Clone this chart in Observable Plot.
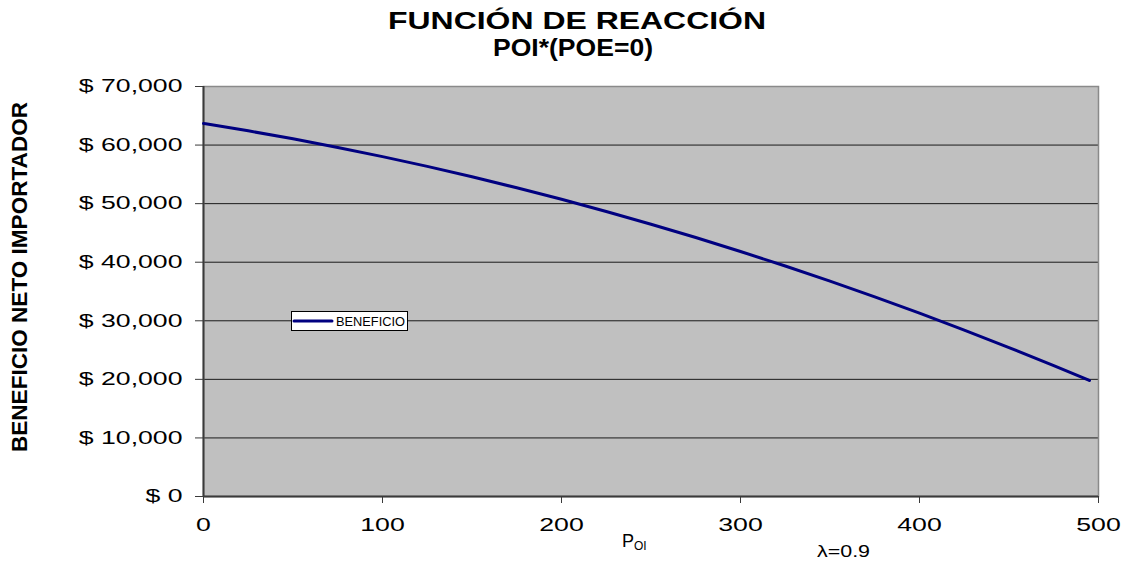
<!DOCTYPE html>
<html>
<head>
<meta charset="utf-8">
<script src="https://cdn.jsdelivr.net/npm/d3@7"></script>
<script src="https://cdn.jsdelivr.net/npm/@observablehq/plot@0.6"></script>
<style>
  html, body { margin: 0; padding: 0; background: #fff; }
  #chart { width: 1125px; height: 561px; }
</style>
</head>
<body>
<div id="chart"></div>
<script>
// ---- data ----
const titleLines = ["FUNCIÓN DE REACCIÓN", "POI*(POE=0)"];
const yLabel = "BENEFICIO NETO IMPORTADOR";
const seriesName = "BENEFICIO";
const lambdaNote = "λ=0.9";
const pOI = [0, 25, 50, 75, 100, 125, 150, 175, 200, 225, 250, 275, 300, 325, 350, 375, 400, 425, 450, 475, 495];
const beneficio = [63700, 62430, 61070, 59600, 58030, 56360, 54580, 52710, 50740, 48660, 46480, 44210, 41830, 39350, 36770, 34080, 31300, 28420, 25430, 22340, 19800];
const xTicks = [0, 100, 200, 300, 400, 500];
const yTicks = [0, 10000, 20000, 30000, 40000, 50000, 60000, 70000];

const data = pOI.map((x, i) => ({x, y: beneficio[i]}));
const fmtY = d => "$ " + d3.format(",")(d);

const W = 1125, H = 561;
const mL = 203, mR = 27, mT = 86, mB = 65;

const chart = Plot.plot({
  width: W,
  height: H,
  marginLeft: mL,
  marginRight: mR,
  marginTop: mT,
  marginBottom: mB,
  style: {fontFamily: "'Liberation Sans', Arial, sans-serif", fontSize: "18px", color: "#000", background: "#fff"},
  x: {domain: [0, 500]},
  y: {domain: [0, 70000]},
  marks: [
    Plot.frame({fill: "#c0c0c0", stroke: "none"}),
    Plot.ruleY(yTicks.slice(1), {stroke: "#1a1a1a", strokeWidth: 1}),
    Plot.frame({stroke: "#8a8a8a", strokeWidth: 1.5}),
    Plot.ruleY([0], {stroke: "#3a3a3a", strokeWidth: 2}),
    Plot.ruleX([0], {stroke: "#3a3a3a", strokeWidth: 2}),
    Plot.axisY({ticks: yTicks, tickFormat: fmtY, tickSize: 8, tickPadding: 13, label: null, stroke: "#3a3a3a"}),
    Plot.axisX({ticks: xTicks, tickFormat: d => String(d), tickSize: 7, tickPadding: 15, label: null, stroke: "#3a3a3a"}),
    Plot.line(data, {x: "x", y: "y", stroke: "#000080", strokeWidth: 3, curve: "monotone-x"})
  ]
});
document.getElementById("chart").appendChild(chart);

// Stretch tick labels horizontally like the reference
const svg = d3.select(chart);
svg.selectAll('[aria-label="y-axis tick label"] text, [aria-label="x-axis tick label"] text').each(function() {
  const w = this.getComputedTextLength();
  this.setAttribute("textLength", (w * 1.48).toFixed(1));
  this.setAttribute("lengthAdjust", "spacingAndGlyphs");
});

// Title
const title = svg.append("g").attr("font-weight", "bold").attr("font-size", 23).attr("text-anchor", "middle");
title.append("text").attr("x", 577).attr("y", 29).attr("textLength", 378).attr("lengthAdjust", "spacingAndGlyphs").text(titleLines[0]);
title.append("text").attr("x", 573).attr("y", 56).attr("textLength", 160).attr("lengthAdjust", "spacingAndGlyphs").text(titleLines[1]);

// Y axis title (rotated)
svg.append("text")
  .attr("transform", "translate(27,277) rotate(-90)")
  .attr("text-anchor", "middle")
  .attr("font-weight", "bold")
  .attr("font-size", 22)
  .attr("textLength", 350)
  .attr("lengthAdjust", "spacingAndGlyphs")
  .text(yLabel);

// X axis title P_OI
const px = svg.append("text").attr("x", 622).attr("y", 547).attr("font-size", 18).attr("text-anchor", "start");
px.append("tspan").text("P");
px.append("tspan").attr("font-size", 12).attr("dy", 3).text("OI");

// lambda note
svg.append("text").attr("x", 817).attr("y", 557).attr("font-size", 16).attr("text-anchor", "start")
  .attr("textLength", 53).attr("lengthAdjust", "spacingAndGlyphs").text(lambdaNote);

// Legend
const lg = svg.append("g");
lg.append("rect").attr("x", 291.5).attr("y", 311.5).attr("width", 116).attr("height", 19)
  .attr("fill", "#fff").attr("stroke", "#000").attr("stroke-width", 1);
lg.append("line").attr("x1", 294).attr("x2", 332).attr("y1", 321).attr("y2", 321)
  .attr("stroke", "#000080").attr("stroke-width", 3).attr("stroke-linecap", "round");
lg.append("text").attr("x", 336).attr("y", 325.5).attr("font-size", 12).attr("text-anchor", "start")
  .attr("textLength", 69).attr("lengthAdjust", "spacingAndGlyphs").text(seriesName);
</script>
</body>
</html>
